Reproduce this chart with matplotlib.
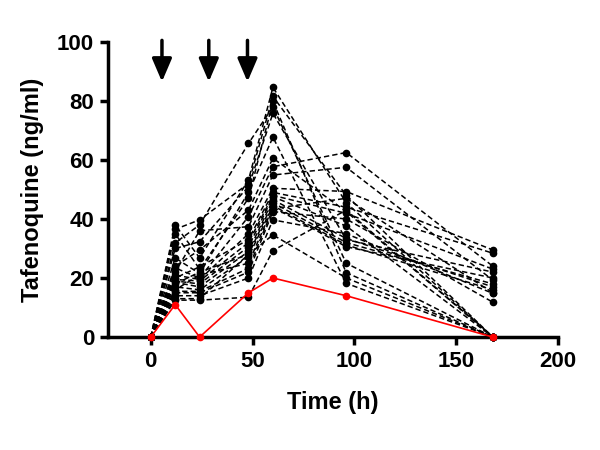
import matplotlib
matplotlib.use("Agg")
import matplotlib.pyplot as plt

plt.rcParams['font.family'] = ['Liberation Sans', 'DejaVu Sans']
plt.rcParams['font.weight'] = 'bold'

times = [0, 12, 24, 48, 60, 96, 168]

subjects = [
    [0, 38.0, 26.8, 53.2, 84.6, 45.5, 0],
    [0, 36.5, 39.7, 52.0, 81.5, 48.0, 0],
    [0, 35.0, 23.0, 47.0, 79.8, 21.8, 0],
    [0, 31.9, 38.0, 65.6, 78.0, 25.0, 0],
    [0, 30.0, 32.3, 51.0, 75.8, 33.0, 22.0],
    [0, 26.8, 21.5, 49.0, 67.7, 18.2, 0],
    [0, 24.0, 29.5, 43.0, 60.6, 42.5, 0],
    [0, 23.4, 20.0, 40.8, 57.7, 62.5, 24.0],
    [0, 22.0, 36.0, 37.4, 54.9, 57.5, 19.3],
    [0, 21.0, 19.5, 35.0, 50.4, 49.3, 29.5],
    [0, 20.0, 23.8, 33.0, 49.0, 44.0, 28.4],
    [0, 19.5, 19.0, 32.0, 48.0, 41.9, 23.0],
    [0, 19.0, 18.0, 30.6, 47.5, 37.6, 0],
    [0, 18.5, 17.0, 29.0, 46.5, 33.4, 17.0],
    [0, 18.0, 22.0, 28.0, 45.5, 32.0, 18.0],
    [0, 17.0, 16.0, 27.2, 44.5, 31.2, 16.0],
    [0, 16.0, 21.0, 25.0, 44.0, 30.6, 20.0],
    [0, 15.5, 15.5, 23.3, 43.5, 47.0, 15.0],
    [0, 15.0, 15.0, 22.0, 42.5, 40.0, 11.8],
    [0, 14.0, 14.0, 20.0, 39.7, 35.0, 14.8],
    [0, 13.0, 13.0, 28.0, 34.6, 20.0, 0],
    [0, 12.5, 12.5, 13.5, 29.3, 43.0, 0],
]

red_subject = [0, 11.0, 0, 15.0, 20.0, 14.0, 0]

arrow_times = [5.5, 28.5, 47.5]

xticks = [0, 50, 100, 150, 200]
yticks = [0, 20, 40, 60, 80, 100]

fig = plt.figure(figsize=(6, 4.5), dpi=100)
ax = fig.add_axes([0.18, 0.251, 0.75, 0.656])

for s in subjects:
    ax.plot(times, s, color='black', linestyle=(0, (3.5, 2)), linewidth=1.1,
            marker='o', markersize=4.5, clip_on=False, zorder=3)

ax.plot(times, red_subject, color='red', linestyle='-', linewidth=1.2,
        marker='o', markersize=4.5, clip_on=False, zorder=4)

for xa in arrow_times:
    ax.annotate('', xy=(xa, 86.5), xytext=(xa, 100.5),
                arrowprops=dict(arrowstyle='-|>,head_width=0.3,head_length=0.7',
                                mutation_scale=20, lw=2.5, color='black',
                                shrinkA=0, shrinkB=0),
                annotation_clip=False)

ax.set_xlim(-21, 200)
ax.set_ylim(0, 100)
ax.set_xticks(xticks)
ax.set_yticks(yticks)
for sp in ['top', 'right']:
    ax.spines[sp].set_visible(False)
for sp in ['left', 'bottom']:
    ax.spines[sp].set_linewidth(2.5)
ax.tick_params(axis='both', direction='out', length=6, width=2.5,
               labelsize=16, pad=4)
for lab in ax.get_xticklabels() + ax.get_yticklabels():
    lab.set_fontweight('bold')

ax.set_xlabel('Time (h)', fontsize=17, fontweight='bold', labelpad=14)
ax.set_ylabel('Tafenoquine (ng/ml)', fontsize=17, fontweight='bold', labelpad=9)

fig.savefig('out.png', dpi=100)
